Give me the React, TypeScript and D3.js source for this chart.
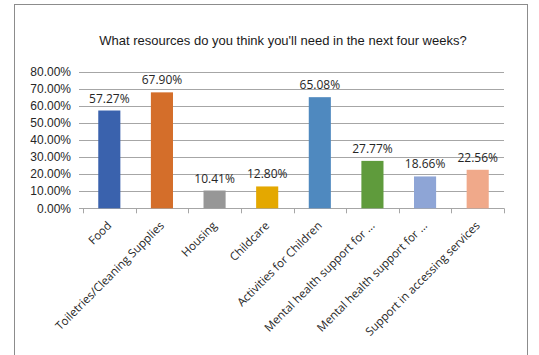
import React from "react";
import * as d3 from "d3";

const categories = [
  "Food",
  "Toiletries/Cleaning Supplies",
  "Housing",
  "Childcare",
  "Activities for Children",
  "Mental health support for ...",
  "Mental health support for ...",
  "Support in accessing services",
];
const values = [0.5727, 0.679, 0.1041, 0.128, 0.6508, 0.2777, 0.1866, 0.2256];
const colors = ["#3A62AD", "#D46E2A", "#979797", "#E4A800", "#4F89BF", "#5F9B3C", "#8EA5D6", "#F0A98A"];
const yTicks = [0, 0.1, 0.2, 0.3, 0.4, 0.5, 0.6, 0.7, 0.8];
const title = "What resources do you think you'll need in the next four weeks?";

const W = 539;
const H = 355;
const left = 83;
const right = 504;
const top = 71.7;
const bottom = 208.3;

export default function App() {
  const keys = categories.map((_, i) => String(i));
  const x = d3.scaleBand<string>().domain(keys).range([left, right]).paddingInner(0.58).paddingOuter(0.29);
  const step = x.step();
  const y = d3.scaleLinear().domain([0, 0.8]).range([bottom, top]);
  const fmt = d3.format(".2%");
  const boundaries = d3.range(categories.length + 1).map((i) => left + i * step);

  return (
    <svg width={W} height={H} style={{ position: "absolute", left: 0, top: 0, background: "#fff" }}>
      <rect x={14.5} y={4.5} width={513} height={H + 10} fill="#fff" stroke="#8c8c8c" strokeWidth={1} />
      <text x={283} y={44.5} textAnchor="middle" fontFamily="Liberation Sans, Arial" fontSize={13} fill="#1a1a1a">
        {title}
      </text>
      {yTicks.map((t) => (
        <g key={t}>
          <line x1={79} x2={right} y1={Math.round(y(t)) + 0.5} y2={Math.round(y(t)) + 0.5} stroke="#a6a6a6" strokeWidth={1} />
          <text x={71} y={y(t)} dy="0.35em" textAnchor="end" fontFamily="Liberation Sans, Arial" fontSize={12} fill="#262626">
            {fmt(t)}
          </text>
        </g>
      ))}
      {boundaries.map((b, i) => (
        <line key={i} x1={Math.round(b) + 0.5} x2={Math.round(b) + 0.5} y1={bottom} y2={bottom + 5} stroke="#a6a6a6" />
      ))}
      {values.map((v, i) => (
        <g key={i}>
          <rect x={x(String(i))!} y={y(v)} width={x.bandwidth()} height={y(0) - y(v)} fill={colors[i]} />
          <text
            x={x(String(i))! + x.bandwidth() / 2}
            y={y(v) - 8}
            textAnchor="middle"
            fontFamily="Open Sans, sans-serif"
            fontSize={12}
            fill="#262626"
          >
            {fmt(v)}
          </text>
        </g>
      ))}
      {categories.map((c, i) => {
        const cx = x(String(i))! + x.bandwidth() / 2;
        const cy = 223.5;
        return (
          <text
            key={i}
            transform={`translate(${cx},${cy}) rotate(-45)`}
            textAnchor="end"
            dy="0.35em"
            fontFamily="Open Sans, sans-serif"
            fontSize={11.5}
            fill="#262626"
          >
            {c}
          </text>
        );
      })}
    </svg>
  );
}
